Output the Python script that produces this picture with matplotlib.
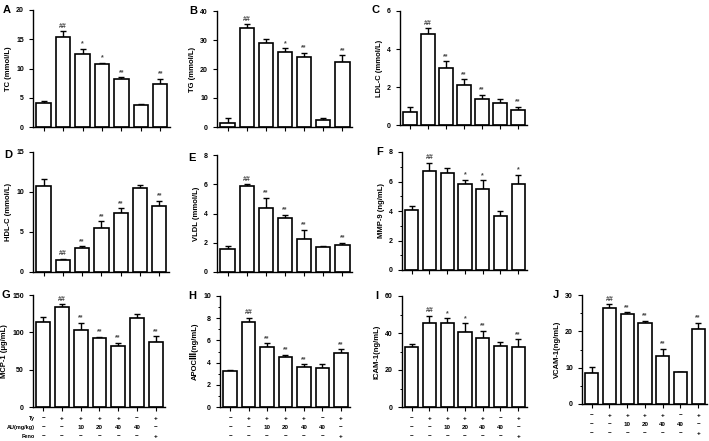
import matplotlib
matplotlib.use("Agg")
import matplotlib.pyplot as plt
from matplotlib.ticker import MultipleLocator

plt.rcParams["font.family"] = ["Liberation Sans", "DejaVu Sans"]
plt.rcParams["font.weight"] = "bold"

# Data (mean, upper error) for the 7 groups
tc = [4.1, 15.3, 12.4, 10.7, 8.2, 3.8, 7.3]
tc_err = [0.3, 1.1, 1.0, 0.3, 0.3, 0.1, 0.9]
tg = [1.5, 34.0, 28.8, 25.7, 24.0, 2.5, 22.5]
tg_err = [1.7, 1.4, 1.7, 1.4, 1.6, 0.5, 2.2]
ldl = [0.67, 4.81, 3.0, 2.1, 1.36, 1.15, 0.79]
ldl_err = [0.27, 0.3, 0.35, 0.3, 0.23, 0.23, 0.18]
hdl = [10.8, 1.46, 3.0, 5.54, 7.38, 10.5, 8.25]
hdl_err = [0.8, 0.2, 0.2, 0.8, 0.6, 0.33, 0.65]
vldl = [1.6, 5.9, 4.39, 3.7, 2.24, 1.71, 1.83]
vldl_err = [0.16, 0.09, 0.7, 0.19, 0.66, 0.09, 0.17]
mmp9 = [4.1, 6.69, 6.6, 5.86, 5.47, 3.65, 5.81]
mmp9_err = [0.25, 0.58, 0.34, 0.27, 0.61, 0.34, 0.65]
mcp1 = [113.3, 134.3, 103.0, 92.7, 82.0, 118.7, 86.4]
mcp1_err = [7.6, 3.2, 9.8, 1.3, 4.0, 5.3, 8.5]
apoc3 = [3.2, 7.7, 5.39, 4.46, 3.59, 3.5, 4.85]
apoc3_err = [0.1, 0.35, 0.36, 0.24, 0.27, 0.36, 0.35]
icam1 = [32.7, 45.3, 45.3, 40.8, 37.5, 33.0, 32.3]
icam1_err = [1.4, 4.1, 2.7, 4.5, 3.6, 2.4, 4.3]
vcam1 = [8.5, 26.5, 24.8, 22.4, 13.1, 8.8, 20.6]
vcam1_err = [1.7, 0.9, 0.45, 0.56, 2.1, 0.1, 1.8]

sig_a = ["", "##", "*", "*", "**", "", "**"]
sig_b = ["", "##", "", "*", "**", "", "**"]
sig_f = ["", "##", "", "*", "*", "", "*"]
sig_i = ["", "##", "*", "*", "**", "", "**"]
sig_std = ["", "##", "**", "**", "**", "", "**"]

# Treatment table under the bottom row
row_names = ["Ty", "AU(mg/kg)", "Feno"]
ty_row = ["\u2212", "+", "+", "+", "+", "\u2212", "+"]
au_row = ["\u2212", "\u2212", "10", "20", "40", "40", "\u2212"]
feno_row = ["\u2212", "\u2212", "\u2212", "\u2212", "\u2212", "\u2212", "+"]

W, H = 709, 441
fig = plt.figure(figsize=(W / 100, H / 100), dpi=100)

# letter, values, errors, sig, ylabel, ymax, major, minor, (left, right, top, bottom) px, letter pos px, table
panels = [
    ("A", tc, tc_err, sig_a, "TC (mmol/L)", 20, 5, None, (33, 170, 10, 127), (3, 10), False),
    ("B", tg, tg_err, sig_b, "TG (mmol/L)", 40, 10, None, (217, 352, 11, 127), (189, 11), False),
    ("C", ldl, ldl_err, sig_std, "LDL-C (mmol/L)", 6, 2, None, (400, 527, 11, 125), (371, 10), False),
    ("D", hdl, hdl_err, sig_std, "HDL-C (mmol/L)", 15, 5, None, (33, 169, 152, 272), (4, 155), False),
    ("E", vldl, vldl_err, sig_std, "VLDL (mmol/L)", 8, 2, None, (217, 352, 155, 272), (188, 158), False),
    ("F", mmp9, mmp9_err, sig_f, "MMP-9 (ng/mL)", 8, 2, 1, (402, 527, 152, 270), (376, 152), False),
    ("G", mcp1, mcp1_err, sig_std, "MCP-1 (\u03bcg/mL)", 150, 50, None, (33, 165, 295, 407), (2, 295), True),
    ("H", apoc3, apoc3_err, sig_std, "APOC\u2162(ng/mL)", 10, 2, 1, (220, 350, 296, 407), (188, 296), True),
    ("I", icam1, icam1_err, sig_i, "ICAM-1(ng/mL)", 60, 20, 10, (402, 527, 296, 407), (375, 296), True),
    ("J", vcam1, vcam1_err, sig_std, "VCAM-1(ng/mL)", 30, 10, 5, (582, 707, 295, 404), (553, 295), True),
]

x = list(range(7))
for (letter, vals, errs, sig, ylabel, ymax, major, minor, box, lpos, table) in panels:
    l, r, t, b = box
    ax = fig.add_axes([l / W, 1 - b / H, (r - l) / W, (b - t) / H])
    ax.bar(x, vals, width=0.74, color="white", edgecolor="black", linewidth=1.2, zorder=2)
    ax.errorbar(x, vals, yerr=[[0] * 7, errs], fmt="none", ecolor="black",
                elinewidth=1.0, capsize=2.2, capthick=1.0, zorder=1)
    for xi, v, e, s in zip(x, vals, errs, sig):
        if s:
            ax.annotate(s, (xi, v + e), xytext=(0, 1), textcoords="offset points",
                        ha="center", va="bottom", fontsize=5, color="#444444")
    ax.set_xlim(-0.55, 6.5)
    ax.set_ylim(0, ymax)
    ax.yaxis.set_major_locator(MultipleLocator(major))
    if minor:
        ax.yaxis.set_minor_locator(MultipleLocator(minor))
    ax.set_xticks(x)
    ax.set_xticklabels([])
    ax.spines["top"].set_visible(False)
    ax.spines["right"].set_visible(False)
    ax.spines["left"].set_linewidth(1.0)
    ax.spines["bottom"].set_linewidth(1.0)
    ax.tick_params(axis="both", which="major", length=3, width=0.8, labelsize=5)
    ax.tick_params(axis="y", which="minor", length=1.8, width=0.7)
    ax.set_ylabel(ylabel, fontsize=5.5, fontweight="bold", labelpad=3)
    fig.text(lpos[0] / W, 1 - lpos[1] / H, letter, fontsize=8, fontweight="bold",
             ha="left", va="center")
    if table:
        for k, row in enumerate([ty_row, au_row, feno_row]):
            dy = -(8 + 6.5 * k)
            for xi, lab in zip(x, row):
                ax.annotate(lab, (xi, 0), xycoords=("data", "axes fraction"),
                            xytext=(0, dy), textcoords="offset points",
                            ha="center", va="center", fontsize=4.5)
            if letter == "G":
                ax.annotate(row_names[k], (0, 0), xycoords=("data", "axes fraction"),
                            xytext=(-6, dy), textcoords="offset points",
                            ha="right", va="center", fontsize=4)

fig.savefig("out.png", dpi=100)
